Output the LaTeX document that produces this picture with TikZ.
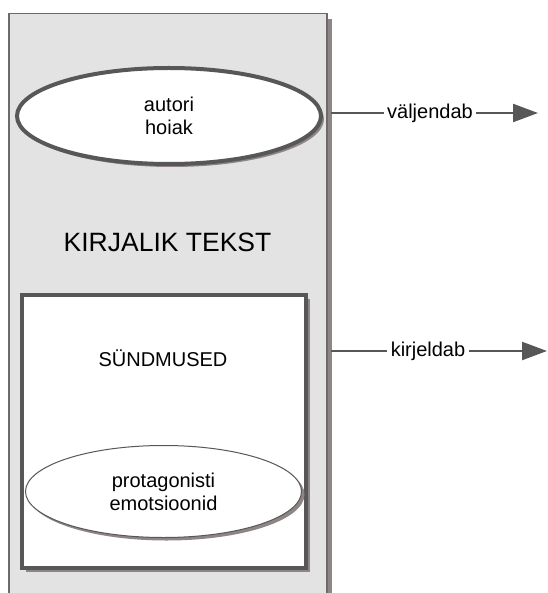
\documentclass[tikz,border=0pt]{standalone}
\usepackage{fontspec}
\setmainfont{Liberation Sans}
\usetikzlibrary{shapes.geometric,shadows,arrows.meta}
\definecolor{panelfill}{HTML}{E4E3E3}
\definecolor{panelline}{HTML}{6B6B6B}
\definecolor{darkline}{HTML}{575757}
\definecolor{shadowgray}{HTML}{8E8585}
\tikzset{
  panel/.style={draw=panelline, line width=1.5pt, fill=panelfill, rectangle,
    inner sep=0pt, minimum width=318pt, minimum height=640pt, anchor=north west,
    drop shadow={shadow xshift=5pt, shadow yshift=-5pt, fill=shadowgray, opacity=1}},
  eventbox/.style={draw=darkline, line width=4pt, fill=white, rectangle,
    inner sep=0pt, minimum width=284pt, minimum height=273pt,
    drop shadow={shadow xshift=4pt, shadow yshift=-4pt, fill=shadowgray, opacity=1}},
  thickoval/.style={ellipse, draw=darkline, line width=4pt, fill=white, inner sep=0pt,
    align=center, font=\fontsize{20}{23}\selectfont,
    drop shadow={shadow xshift=3pt, shadow yshift=-3pt, fill=shadowgray, opacity=1}},
  thinoval/.style={ellipse, draw=darkline, line width=1pt, fill=white, inner sep=0pt,
    align=center, font=\fontsize{20}{23}\selectfont,
    drop shadow={shadow xshift=3pt, shadow yshift=-3pt, fill=shadowgray, opacity=1}},
  plainlabel/.style={font=\fontsize{20}{23}\selectfont, inner sep=0pt},
  biglabel/.style={font=\fontsize{26.5}{30}\selectfont, inner sep=0pt},
  relation/.style={draw=darkline, line width=2.2pt,
    -{Triangle[length=25pt,width=18pt]}},
  rellabel/.style={fill=white, inner sep=3.5pt, font=\fontsize{20}{23}\selectfont}
}
\begin{document}
\begin{tikzpicture}[x=1pt,y=-1pt]
  \useasboundingbox (0,0) rectangle (547,593);
  \clip (0,0) rectangle (547,593);

  % outer panel of the literary text
  \node[panel] (text) at (8,13) {};
  \node[biglabel] (title) at (167.5,242) {KIRJALIK TEKST};

  % author's attitude
  \node[thickoval, minimum width=304pt, minimum height=96pt] (attitude) at (169,116)
    {autori\\hoiak};

  % events box with the protagonist's emotions
  \node[eventbox] (events) at (164,431.5) {};
  \node[plainlabel] (eventsname) at (163,358) {SÜNDMUSED};
  \node[thinoval, minimum width=276pt, minimum height=92pt] (emotions) at (163.5,491.5)
    {protagonisti\\emotsioonid};

  % relations leaving the panel
  \coordinate (expressfrom) at (331,113);
  \coordinate (expressto) at (538,113);
  \coordinate (describefrom) at (331,351);
  \coordinate (describeto) at (547,351);
  \draw[relation] (expressfrom) -- node[rellabel, pos=0.478] (express) {väljendab} (expressto);
  \draw[relation] (describefrom) -- node[rellabel, pos=0.449] (describe) {kirjeldab} (describeto);
\end{tikzpicture}
\end{document}
